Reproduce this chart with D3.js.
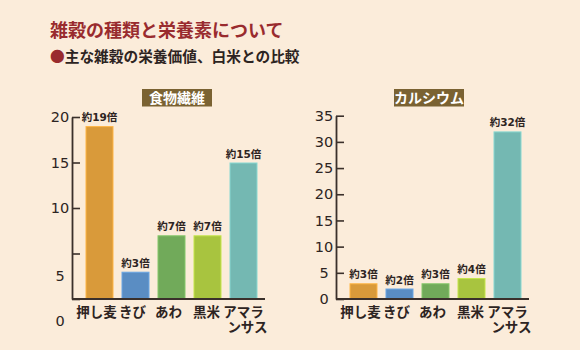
<!DOCTYPE html>
<html>
<head>
<meta charset="utf-8">
<script src="https://cdn.jsdelivr.net/npm/d3@7"></script>
<style>
  html, body { margin: 0; padding: 0; background: #fbecda; }
  svg { display: block; }
</style>
</head>
<body>
<svg id="chart" width="580" height="350"></svg>
<script>
// ---- data ----
const categories = ["押し麦", "きび", "あわ", "黒米", "アマラ\nンサス"];
const fiberValues = [19, 3, 7, 7, 15];
const calciumValues = [3, 2, 3, 4, 32];
const fiberTicks = [0, 5, 10, 15, 20];
const calciumTicks = [0, 5, 10, 15, 20, 25, 30, 35];
const barColors = ["#d99a3a", "#5a8dc3", "#71aa5a", "#a8c43f", "#74b8b2"];
const titleText = "雑穀の種類と栄養素について";
const subtitleText = "主な雑穀の栄養価値、白米との比較";
const panelTitles = ["食物繊維", "カルシウム"];

const JP = "'Noto Sans CJK JP', 'Noto Sans', sans-serif";
const CAT = "'Liberation Sans', 'Noto Sans CJK JP', sans-serif";
const NUM = "'DejaVu Sans', sans-serif";
const VAL = "'DejaVu Sans', 'Noto Sans CJK JP', sans-serif";
const ink = "#2d2422";
// small horizontal nudges for category label glyph placement (style only)
const catNudge = [-3, -3, -3, -1, 0];

const svg = d3.select("#chart");
svg.append("rect").attr("width", 580).attr("height", 350).attr("fill", "#fbecda");

// titles
svg.append("text").attr("x", 50).attr("y", 37)
  .attr("font-family", JP).attr("font-weight", 700).attr("font-size", 18)
  .attr("fill", "#992b2e").text(titleText);
const sub = svg.append("text").attr("x", 50).attr("y", 61.5)
  .attr("font-family", JP).attr("font-weight", 700).attr("font-size", 14.7);
sub.append("tspan").attr("fill", "#992b2e").text("●");
sub.append("tspan").attr("fill", ink).text(subtitleText);

function panel(cfg) {
  const g = svg.append("g");
  const y = d3.scaleLinear().domain([0, cfg.max]).range([299, cfg.top]);
  const x = d3.scaleBand().domain(categories)
    .range([cfg.axisX + 13.5, cfg.axisX + 185.5])
    .paddingInner(8 / 36).paddingOuter(0);

  // panel title box
  const bx = cfg.axisX + cfg.boxOffset;
  g.append("rect").attr("x", bx - 35).attr("y", 89).attr("width", 70).attr("height", 17.5)
    .attr("fill", "#7a6232");
  g.append("text").attr("x", bx).attr("y", 103)
    .attr("text-anchor", "middle").attr("font-family", JP).attr("font-weight", 700)
    .attr("font-size", 14).attr("fill", "#fff").text(cfg.title);

  // bars
  g.selectAll("rect.bar").data(cfg.values).join("rect").attr("class", "bar")
    .attr("x", (d, i) => x(categories[i]) + 0.5)
    .attr("y", d => y(d) + 0.5)
    .attr("width", x.bandwidth() - 1)
    .attr("height", d => y(0) - y(d) - 1)
    .attr("fill", (d, i) => barColors[i])
    .attr("stroke", (d, i) => d3.color(barColors[i]).brighter(0.45))
    .attr("stroke-width", 1);

  // value labels
  g.selectAll("text.val").data(cfg.values).join("text").attr("class", "val")
    .attr("x", (d, i) => x(categories[i]) + x.bandwidth() / 2)
    .attr("y", d => y(d) - 5)
    .attr("text-anchor", "middle").attr("font-family", VAL).attr("font-weight", 700)
    .attr("font-size", 10.5).attr("fill", ink)
    .text(d => `約${d}倍`);

  // y axis
  const axis = d3.axisLeft(y).tickValues(cfg.ticks).tickSizeInner(-8).tickSizeOuter(0)
    .tickPadding(12);
  const ag = g.append("g").attr("transform", `translate(${cfg.axisX},0)`).call(axis);
  ag.select(".domain").attr("stroke", "#3a302b").attr("stroke-width", 1.8);
  ag.selectAll(".tick line").attr("stroke", "#3a302b").attr("stroke-width", 1.6);
  ag.selectAll(".tick text").attr("font-family", NUM).attr("font-size", 14.5)
    .attr("fill", ink).attr("text-anchor", "middle");
  if (cfg.shiftLow) {
    ag.selectAll(".tick").filter(d => d <= 5).select("text")
      .attr("dy", "0.32em").attr("y", 22);
  }

  // x axis baseline
  const xa = d3.axisBottom(x).tickSize(0).tickFormat("");
  const xg = g.append("g").attr("transform", `translate(0,${y(0)})`).call(xa);
  xg.select(".domain").attr("d", `M${cfg.axisX},0H${cfg.axisX + 193}`)
    .attr("stroke", "#3a302b").attr("stroke-width", 1.8);

  // category labels (each line its own text element)
  categories.forEach((d, i) => {
    d.split("\n").forEach((ln, k) => {
      g.append("text").attr("class", "cat")
        .attr("x", x(d) + x.bandwidth() / 2 + catNudge[i] + (k > 0 ? 4 : 0))
        .attr("y", 316.5 + k * 15.5)
        .attr("text-anchor", "middle").attr("font-family", CAT).attr("font-weight", 700)
        .attr("font-size", 13.5).attr("fill", ink).text(ln);
    });
  });
}

panel({ axisX: 72, top: 117, max: 20, ticks: fiberTicks, values: fiberValues,
        title: panelTitles[0], boxOffset: 105, shiftLow: true });
panel({ axisX: 336, top: 115.7, max: 35, ticks: calciumTicks, values: calciumValues,
        title: panelTitles[1], boxOffset: 93, shiftLow: false });
</script>
</body>
</html>
